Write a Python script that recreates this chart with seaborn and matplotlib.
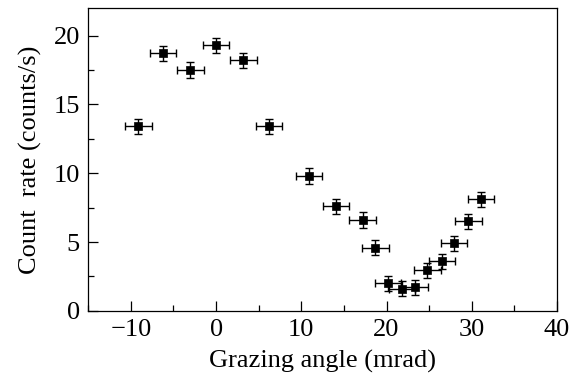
"""Count rate versus grazing angle with error bars."""
import matplotlib
matplotlib.use("Agg")
import matplotlib.pyplot as plt
from matplotlib.ticker import MultipleLocator
import pandas as pd
import seaborn as sns

# data
angle = [-9.1, -6.2, -3.0, 0.0, 3.2, 6.2, 10.9, 14.1, 17.2, 18.7,
         20.2, 21.8, 23.3, 24.8, 26.5, 27.9, 29.6, 31.1]
rate = [13.4, 18.7, 17.5, 19.3, 18.2, 13.4, 9.8, 7.6, 6.6, 4.6,
        2.0, 1.6, 1.7, 2.95, 3.6, 4.9, 6.5, 8.1]
angle_err = [1.55] * len(angle)
rate_err = [0.55] * len(rate)

df = pd.DataFrame({"angle": angle, "rate": rate})

sns.set_style("ticks")
plt.rcParams["font.family"] = ["Liberation Serif", "DejaVu Serif"]
plt.rcParams["text.color"] = "black"
plt.rcParams["axes.labelcolor"] = "black"

fig = plt.figure(figsize=(5.69, 3.81), dpi=100)
ax = fig.add_axes([0.155, 0.184, 0.824, 0.795])

ax.errorbar(angle, rate, xerr=angle_err, yerr=rate_err, fmt="none",
            ecolor="black", elinewidth=1.0, capsize=3, capthick=1.0)
sns.scatterplot(data=df, x="angle", y="rate", marker="s", s=38,
                color="black", edgecolor="black", ax=ax, zorder=3)

ax.set_xlim(-15, 40)
ax.set_ylim(0, 22)
ax.xaxis.set_major_locator(MultipleLocator(10))
ax.xaxis.set_minor_locator(MultipleLocator(5))
ax.yaxis.set_major_locator(MultipleLocator(5))
ax.yaxis.set_minor_locator(MultipleLocator(2.5))
ax.tick_params(which="both", direction="in", labelsize=19, colors="black")
ax.tick_params(which="major", length=7, width=0.9, pad=6)
ax.tick_params(which="minor", length=4, width=0.9)
for spine in ax.spines.values():
    spine.set_visible(True)
    spine.set_linewidth(0.9)
    spine.set_color("black")

ax.set_xlabel("Grazing angle (mrad)", fontsize=19, labelpad=6, color="black")
ax.set_ylabel("Count  rate (counts/s)", fontsize=19, labelpad=8, color="black")

fig.savefig("out.png", dpi=100)
plt.close(fig)
